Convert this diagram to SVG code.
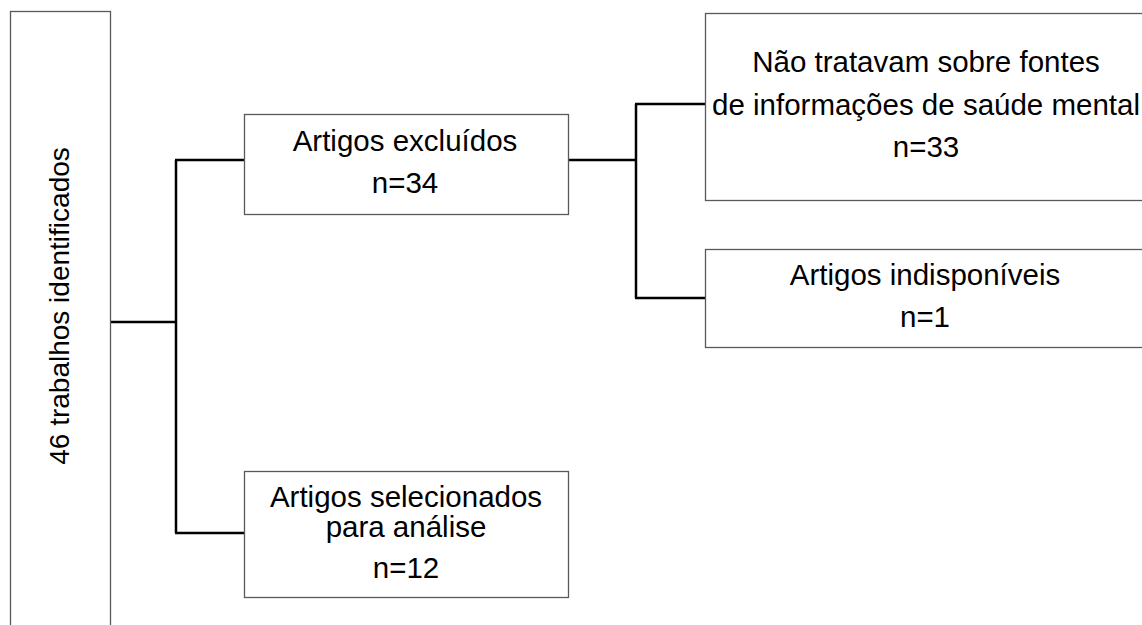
<svg xmlns="http://www.w3.org/2000/svg" width="1142" height="625" viewBox="0 0 1142 625">
<style>
.box{fill:#fff;stroke:#595959;stroke-width:1.3}
.t{font-family:"Liberation Sans",Arial,sans-serif;font-size:29.5px;fill:#000;text-anchor:middle}
.v{font-size:28px}
.c{fill:none;stroke:#000;stroke-width:2.5}
</style>
<rect width="1142" height="625" fill="#fff"/>
<g id="connectors">
<path class="c" d="M110,322 H176 M176,160 V533 M175,160 H245 M175,533 H245"/>
<path class="c" d="M568,160 H636 M636,104 V298 M635,104 H705 M635,298 H705"/>
</g>
<g id="n46">
<rect class="box" x="10.5" y="11.5" width="100" height="630"/>
<text class="t v" transform="translate(69,306) rotate(-90)">46 trabalhos identificados</text>
</g>
<g id="excluidos">
<rect class="box" x="244.5" y="114.5" width="324" height="100"/>
<text class="t" x="405" y="151">Artigos excluídos</text>
<text class="t" x="405" y="193">n=34</text>
</g>
<g id="naotratavam">
<rect class="box" x="705.5" y="13.5" width="445" height="187"/>
<text class="t" x="926" y="72">Não tratavam sobre fontes</text>
<text class="t" x="926" y="115">de informações de saúde mental</text>
<text class="t" x="926" y="157">n=33</text>
</g>
<g id="indisponiveis">
<rect class="box" x="705.5" y="249.5" width="445" height="98"/>
<text class="t" x="925" y="285">Artigos indisponíveis</text>
<text class="t" x="925" y="327">n=1</text>
</g>
<g id="selecionados">
<rect class="box" x="244.5" y="471.5" width="324" height="126"/>
<text class="t" x="406" y="507">Artigos selecionados</text>
<text class="t" x="406" y="537">para análise</text>
<text class="t" x="406" y="578">n=12</text>
</g>
</svg>
